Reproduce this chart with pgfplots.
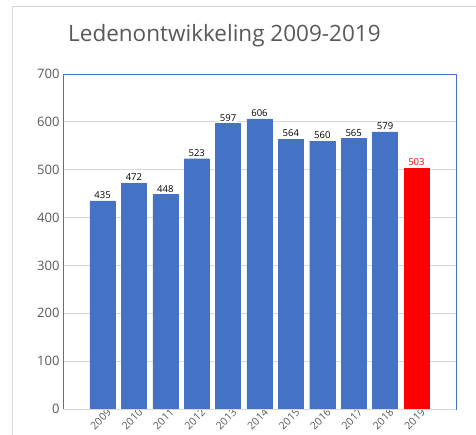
\documentclass[border=0pt]{standalone}
\usepackage{pgfplots}
\pgfplotsset{compat=1.18}
\usepackage{fontspec}
\setmainfont{Open Sans}
\definecolor{barblue}{HTML}{4472C4}
\definecolor{txtgrey}{HTML}{595959}
\definecolor{gridgrey}{HTML}{D9D9D9}
\begin{document}
\begin{tikzpicture}[x=1pt,y=1pt]
\path[use as bounding box] (-63,-25) rectangle (413,409);
\draw[gridgrey] (-51,-30) -- (-51,403) -- (420,403);
\node[anchor=west,text=txtgrey,font=\fontsize{22.5}{26}\selectfont,inner sep=0pt] at (5,373) {Ledenontwikkeling 2009-2019};
\begin{axis}[
  at={(0,0)}, anchor=south west,
  width=393pt, height=335pt, scale only axis,
  xmin=-1.26, xmax=11.26,
  ymin=0, ymax=700,
  ytick={0,100,...,700},
  xtick={0,...,10},
  xticklabels={2009,2010,2011,2012,2013,2014,2015,2016,2017,2018,2019},
  x tick label style={rotate=45,anchor=east,font=\fontsize{10.5}{12}\selectfont,text=txtgrey,xshift=7pt,yshift=-6pt},
  y tick label style={font=\fontsize{13}{15}\selectfont,text=txtgrey},
  /pgf/number format/assume math mode=true,
  ymajorgrids, grid style={gridgrey,line width=0.8pt},
  major tick length=0pt,
  axis line style={barblue,line width=0.9pt},
  ybar, bar width=0.8,
  bar shift=0pt,
  nodes near coords,
  nodes near coords style={font=\fontsize{9.5}{11}\selectfont,text=black,fill=white,inner sep=1pt,yshift=1pt},
  every node near coord/.append style={anchor=south},
  clip=false,
  axis on top=false,
]
\addplot[fill=barblue,draw=barblue] coordinates {(0,435)(1,472)(2,448)(3,523)(4,597)(5,606)(6,564)(7,560)(8,565)(9,579)};
\addplot[fill=red,draw=red,nodes near coords style={text=red}] coordinates {(10,503)};
\end{axis}
\draw[gridgrey,line width=0.9pt] (0,0) -- (393,0);
\end{tikzpicture}
\end{document}
